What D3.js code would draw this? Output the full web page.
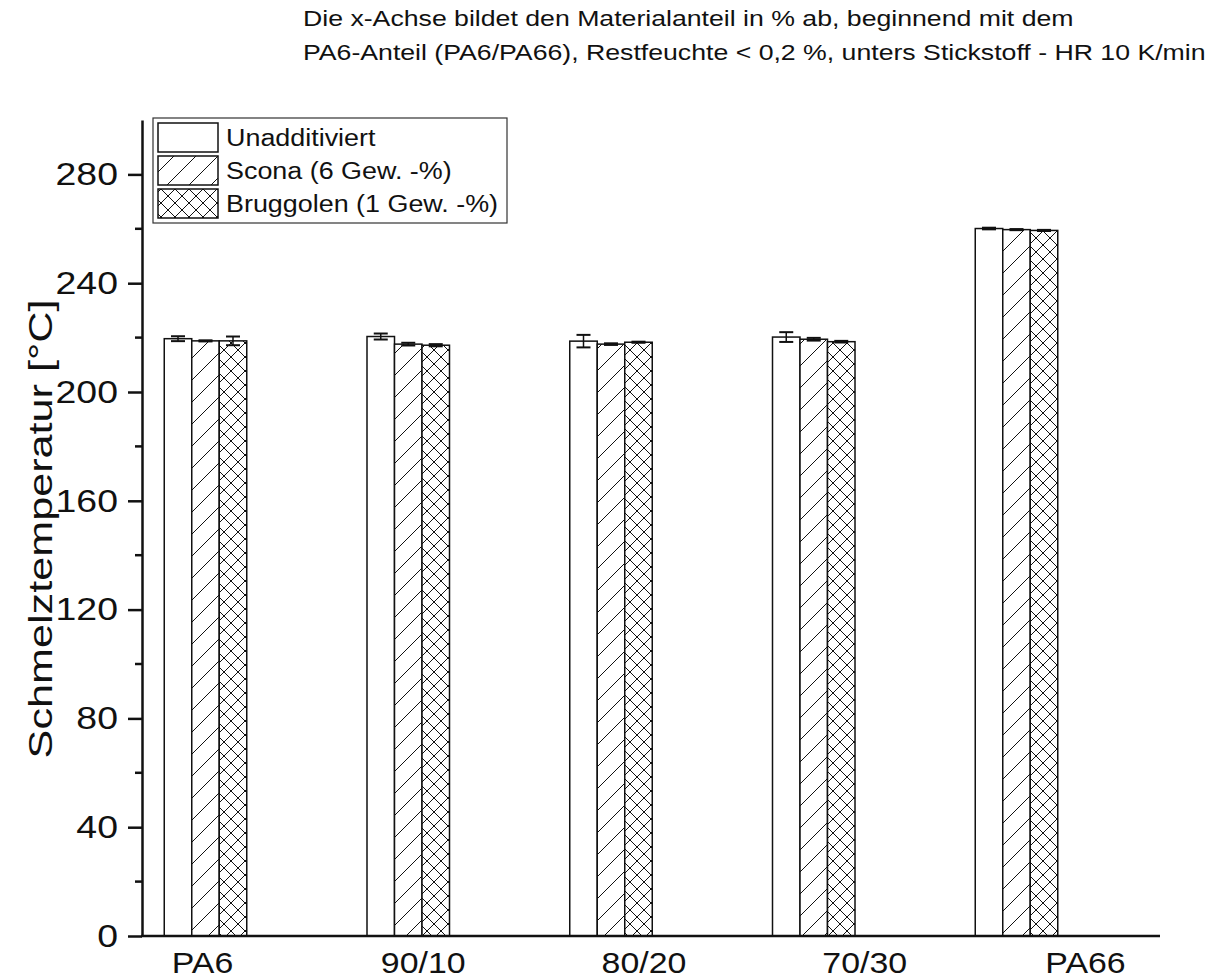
<!DOCTYPE html>
<html>
<head>
<meta charset="utf-8">
<script src="https://cdn.jsdelivr.net/npm/d3@7"></script>
<style>
  body { margin: 0; background: #fff; }
  text { font-family: "Liberation Sans", Arial, sans-serif; fill: #111; }
</style>
</head>
<body>
<div id="vis"></div>
<script>
// Data.
const categories = ["PA6", "90/10", "80/20", "70/30", "PA66"];
const seriesNames = ["Unadditiviert", "Scona (6 Gew. -%)", "Bruggolen (1 Gew. -%)"];
const unadditiviert = [219.6, 220.4, 218.7, 220.2, 260.1];
const unadditiviertErr = [0.9, 1.1, 2.3, 1.8, 0.3];
const scona = [218.8, 217.6, 217.6, 219.4, 259.7];
const sconaErr = [0.2, 0.5, 0.3, 0.5, 0.2];
const bruggolen = [218.8, 217.2, 218.3, 218.5, 259.4];
const bruggolenErr = [1.6, 0.4, 0.2, 0.3, 0.2];
const yTicks = [0, 40, 80, 120, 160, 200, 240, 280];
const yMinorTicks = [20, 60, 100, 140, 180, 220, 260];

const W = 1217, H = 980;
const sx = 1.17; // the reference font is stretched sideways

const svg = d3.select("#vis").append("svg")
  .attr("width", W).attr("height", H);

// Patterns for the fills.
const defs = svg.append("defs");
const hatch = defs.append("pattern")
  .attr("id", "hatch").attr("patternUnits", "userSpaceOnUse")
  .attr("width", 22).attr("height", 22);
hatch.append("rect").attr("width", 22).attr("height", 22).attr("fill", "#fff");
hatch.append("path").attr("d", "M-2,24 L24,-2 M-6,6 L6,-6 M16,28 L28,16")
  .attr("stroke", "#111").attr("stroke-width", 1);

const cross = defs.append("pattern")
  .attr("id", "cross").attr("patternUnits", "userSpaceOnUse")
  .attr("width", 14).attr("height", 14);
cross.append("rect").attr("width", 14).attr("height", 14).attr("fill", "#fff");
cross.append("path").attr("d", "M-1,15 L15,-1 M-1,-1 L15,15 M-4,4 L4,-4 M10,18 L18,10 M-4,10 L4,18 M10,-4 L18,4")
  .attr("stroke", "#111").attr("stroke-width", 1);

const fills = ["#fff", "url(#hatch)", "url(#cross)"];

// Scales.
const plot = {left: 142, right: 1160, top: 120, bottom: 936};
const y = d3.scaleLinear().domain([0, 300]).range([plot.bottom, plot.top]);
const xGroup = d3.scalePoint().domain(categories).range([205.5, 1016.5]);
const xInner = d3.scaleBand().domain(seriesNames).range([-41.25, 41.25]);
const xLabel = d3.scalePoint().domain(categories).range([202, 1085]);

const series = [
  {name: seriesNames[0], values: unadditiviert, err: unadditiviertErr},
  {name: seriesNames[1], values: scona, err: sconaErr},
  {name: seriesNames[2], values: bruggolen, err: bruggolenErr}
];

// Bars.
const bars = svg.append("g");
series.forEach(function(s, si) {
  const g = bars.append("g");
  g.selectAll("rect")
    .data(categories)
    .join("rect")
      .attr("x", d => xGroup(d) + xInner(s.name))
      .attr("y", (d, i) => y(s.values[i]))
      .attr("width", xInner.bandwidth())
      .attr("height", (d, i) => y(0) - y(s.values[i]))
      .attr("fill", fills[si])
      .attr("stroke", "#111")
      .attr("stroke-width", 1.5);

  // Error bars.
  const eb = g.selectAll("g.err")
    .data(categories)
    .join("g").attr("class", "err");
  const cx = d => xGroup(d) + xInner(s.name) + xInner.bandwidth() / 2;
  eb.append("line")
    .attr("x1", cx).attr("x2", cx)
    .attr("y1", (d, i) => y(s.values[i] + s.err[i]))
    .attr("y2", (d, i) => y(s.values[i] - s.err[i]))
    .attr("stroke", "#111").attr("stroke-width", 1.5);
  [1, -1].forEach(function(sign) {
    eb.append("line")
      .attr("x1", d => cx(d) - 7).attr("x2", d => cx(d) + 7)
      .attr("y1", (d, i) => y(s.values[i] + sign * s.err[i]))
      .attr("y2", (d, i) => y(s.values[i] + sign * s.err[i]))
      .attr("stroke", "#111").attr("stroke-width", 2);
  });
});

// Y axis with major and minor ticks.
const yAxis = svg.append("g")
  .attr("transform", "translate(" + plot.left + ",0)")
  .call(d3.axisLeft(y).tickValues(yTicks).tickSize(14).tickSizeOuter(0).tickPadding(12));
yAxis.select(".domain").attr("stroke", "#111").attr("stroke-width", 2.5);
yAxis.selectAll(".tick line").attr("stroke", "#111").attr("stroke-width", 2.5);
yAxis.selectAll(".tick text")
  .style("font-size", "32px")
  .attr("fill", "#111")
  .attr("x", -24 / sx)
  .attr("transform", "scale(" + sx + ",1)");

svg.append("g")
  .attr("transform", "translate(" + plot.left + ",0)")
  .selectAll("line")
  .data(yMinorTicks)
  .join("line")
    .attr("x1", -7).attr("x2", 0)
    .attr("y1", d => y(d)).attr("y2", d => y(d))
    .attr("stroke", "#111").attr("stroke-width", 2.5);

// X axis line and category labels.
svg.append("line")
  .attr("x1", plot.left - 1).attr("x2", plot.right)
  .attr("y1", plot.bottom).attr("y2", plot.bottom)
  .attr("stroke", "#111").attr("stroke-width", 2.5);

const xAxis = svg.append("g")
  .attr("transform", "translate(0," + plot.bottom + ")")
  .call(d3.axisBottom(xLabel).tickSize(0).tickPadding(16));
xAxis.select(".domain").remove();
xAxis.selectAll(".tick text")
  .style("font-size", "30px")
  .attr("fill", "#111")
  .attr("dy", "0.71em")
  .attr("transform", "scale(" + (sx - 0.04) + ",1)");

// Y-axis title.
svg.append("text")
  .attr("transform", "translate(52,529) rotate(-90) scale(1.27,1)")
  .attr("text-anchor", "middle")
  .style("font-size", "34px")
  .text("Schmelztemperatur [°C]");

// Title above the chart.
const titleLines = [
  "Die x-Achse bildet den Materialanteil in % ab, beginnend mit dem",
  "PA6-Anteil (PA6/PA66), Restfeuchte < 0,2 %, unters Stickstoff - HR 10 K/min"
];
svg.append("g")
  .selectAll("text")
  .data(titleLines)
  .join("text")
    .attr("transform", (d, i) => "translate(303," + (26 + i * 34) + ") scale(" + sx + ",1)")
    .style("font-size", "22.8px")
    .text(d => d);

// Legend.
const legend = svg.append("g");
legend.append("rect")
  .attr("x", 153).attr("y", 118).attr("width", 354).attr("height", 105)
  .attr("fill", "#fff").attr("stroke", "#333").attr("stroke-width", 1.2);
const rowY = [123, 156, 189];
const items = legend.selectAll("g.item")
  .data(series)
  .join("g").attr("class", "item");
items.append("rect")
  .attr("x", 158).attr("y", (d, i) => rowY[i])
  .attr("width", 60).attr("height", 29)
  .attr("fill", (d, i) => fills[i])
  .attr("stroke", "#111").attr("stroke-width", 1.5);
items.append("text")
  .attr("transform", (d, i) => "translate(226," + (rowY[i] + 23) + ") scale(" + sx + ",1)")
  .style("font-size", "23px")
  .text(d => d.name);
</script>
</body>
</html>
